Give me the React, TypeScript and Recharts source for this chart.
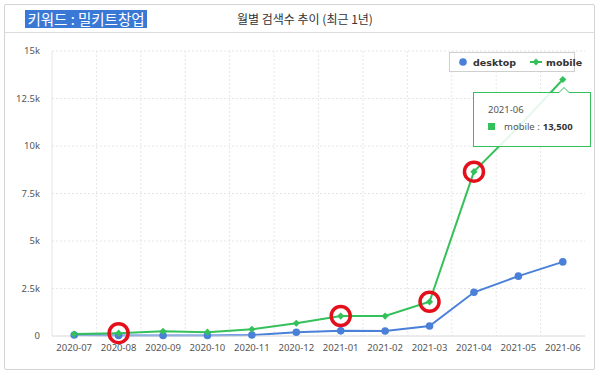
import { CartesianGrid, Legend, Line, LineChart, Tooltip, XAxis, YAxis } from 'recharts';

const months = [
  '2020-07', '2020-08', '2020-09', '2020-10', '2020-11', '2020-12',
  '2021-01', '2021-02', '2021-03', '2021-04', '2021-05', '2021-06',
];
const desktop = [50, 30, 30, 30, 50, 200, 270, 260, 530, 2300, 3150, 3900];
const mobile = [100, 150, 250, 200, 350, 670, 1050, 1050, 1800, 8650, 11000, 13500];
const yTicks = [0, 2500, 5000, 7500, 10000, 12500, 15000];
const circled = ['2020-08', '2021-01', '2021-03', '2021-04'];

const BLUE = '#4a80d8';
const GREEN = '#34c05a';
const RED = '#e3101c';

const data = months.map((m, i) => ({ month: m, desktop: desktop[i], mobile: mobile[i] }));

const W = 600;
const H = 377;
const MARGIN = { top: 51, right: 15, left: 12, bottom: 11 };
const PLOT_W = W - MARGIN.left - 40 - MARGIN.right;
const HALF = PLOT_W / months.length / 2;

const fmtK = (v: number) => (v === 0 ? '0' : `${v / 1000}k`);

function MobileDot(props: any) {
  const { cx, cy, payload } = props;
  if (cx == null || cy == null) return null;
  const s = 3.6;
  return (
    <g>
      <path d={`M${cx},${cy - s} L${cx + s},${cy} L${cx},${cy + s} L${cx - s},${cy} Z`} fill={GREEN} />
      {circled.includes(payload.month) && (
        <circle cx={cx} cy={cy} r={9.5} fill="none" stroke={RED} strokeWidth={3.5} />
      )}
    </g>
  );
}

function LegendBox() {
  return (
    <div
      style={{
        border: '1px solid #cfcfcf',
        background: '#fff',
        height: 20,
        boxSizing: 'border-box',
        display: 'flex',
        alignItems: 'center',
        paddingLeft: 8,
        gap: 14,
        fontFamily: '"DejaVu Sans", sans-serif',
        fontWeight: 'bold',
        fontSize: 9.5,
        color: '#333',
      }}
    >
      <span style={{ display: 'flex', alignItems: 'center', gap: 5 }}>
        <svg width={10} height={10}>
          <circle cx={5} cy={5} r={3.8} fill={BLUE} />
        </svg>
        desktop
      </span>
      <span style={{ display: 'flex', alignItems: 'center', gap: 4 }}>
        <svg width={12} height={10}>
          <line x1={0} y1={5} x2={12} y2={5} stroke={GREEN} strokeWidth={2} />
          <path d="M6,1.5 L9.5,5 L6,8.5 L2.5,5 Z" fill={GREEN} />
        </svg>
        mobile
      </span>
    </div>
  );
}

function TipBox({ active, payload }: any) {
  if (!active || !payload?.length) return null;
  const item = payload.find((p: any) => p.dataKey === 'mobile') ?? payload[0];
  return (
    <div
      style={{
        position: 'relative',
        width: 118,
        height: 55,
        boxSizing: 'border-box',
        border: `1px solid ${GREEN}`,
        background: 'rgba(255,255,255,0.88)',
        fontFamily: '"Noto Sans", sans-serif',
        fontSize: 9.5,
        color: '#555',
        padding: '10px 0 0 14px',
      }}
    >
      <div
        style={{
          position: 'absolute', top: -6, left: 84, width: 0, height: 0,
          borderLeft: '6px solid transparent', borderRight: '6px solid transparent',
          borderBottom: `6px solid ${GREEN}`,
        }}
      />
      <div
        style={{
          position: 'absolute', top: -5, left: 85, width: 0, height: 0,
          borderLeft: '5px solid transparent', borderRight: '5px solid transparent',
          borderBottom: '5px solid #fff',
        }}
      />
      <div>{item.payload.month}</div>
      <div style={{ display: 'flex', alignItems: 'center', marginTop: 4 }}>
        <span style={{ width: 7, height: 7, background: GREEN, display: 'inline-block', marginRight: 9 }} />
        <span>mobile : </span>
        <span style={{ fontWeight: 'bold', color: '#333', marginLeft: 3 }}>
          {item.value.toLocaleString('en-US')}
        </span>
      </div>
    </div>
  );
}

export default function App() {
  return (
    <div style={{ position: 'fixed', left: 0, top: 0, width: W, height: H, background: '#fff' }}>
      <div
        style={{
          position: 'absolute', left: 4, top: 4, width: 591, height: 366,
          border: '1px solid #d4d4d4', borderRadius: 2, boxSizing: 'border-box',
        }}
      />
      <div style={{ position: 'absolute', left: 5, top: 32, width: 589, height: 1, background: '#dcdcdc' }} />
      <div
        style={{
          position: 'absolute', left: 25, top: 10, width: 122, height: 18,
          background: '#3a78d6', color: '#fff', fontFamily: '"Noto Sans CJK KR", sans-serif',
          fontSize: 14.5, lineHeight: '18px', textAlign: 'center',
        }}
      >
        키워드 : 밀키트창업
      </div>
      <div
        style={{
          position: 'absolute', left: 237, top: 10, height: 18,
          color: '#333', fontFamily: '"Noto Sans CJK KR", sans-serif',
          fontSize: 12, lineHeight: '18px',
        }}
      >
        월별 검색수 추이 (최근 1년)
      </div>
      <div style={{ position: 'absolute', left: 0, top: 0 }}>
        <LineChart width={W} height={H} data={data} margin={MARGIN}>
          <CartesianGrid
            stroke="#e6e6e6"
            strokeDasharray="2 2"
            verticalCoordinatesGenerator={({ offset }: any) =>
              months.map((_, i) => offset.left + (i * offset.width) / months.length).slice(1)
            }
          />
          <XAxis
            dataKey="month"
            padding={{ left: HALF, right: HALF }}
            tickLine={false}
            axisLine={{ stroke: '#dedede' }}
            tick={{ fontSize: 9.5, fill: '#555', fontFamily: '"Noto Sans", sans-serif' }}
            interval={0}
            height={30}
          />
          <YAxis
            domain={[0, 15000]}
            ticks={yTicks}
            tickFormatter={fmtK}
            width={40}
            tickLine={false}
            tickSize={4}
            tickMargin={8}
            axisLine={{ stroke: '#e6e6e6' }}
            tick={{ fontSize: 9.5, fill: '#555', fontFamily: '"Noto Sans", sans-serif' }}
          />
          <Legend
            layout="vertical"
            align="center"
            verticalAlign="middle"
            wrapperStyle={{ top: 52, left: 449, width: 126, height: 20 }}
            content={() => <LegendBox />}
          />
          <Tooltip
            active
            defaultIndex={11}
            cursor={false}
            position={{ x: 473, y: 92 }}
            content={<TipBox />}
            wrapperStyle={{ outline: 'none' }}
            isAnimationActive={false}
          />
          <Line
            type="linear"
            dataKey="desktop"
            stroke={BLUE}
            strokeWidth={2}
            dot={{ r: 3.8, fill: BLUE, stroke: BLUE, strokeWidth: 0 }}
            activeDot={false}
            isAnimationActive={false}
          />
          <Line
            type="linear"
            dataKey="mobile"
            stroke={GREEN}
            strokeWidth={2}
            dot={<MobileDot />}
            activeDot={false}
            isAnimationActive={false}
          />
        </LineChart>
      </div>
    </div>
  );
}
